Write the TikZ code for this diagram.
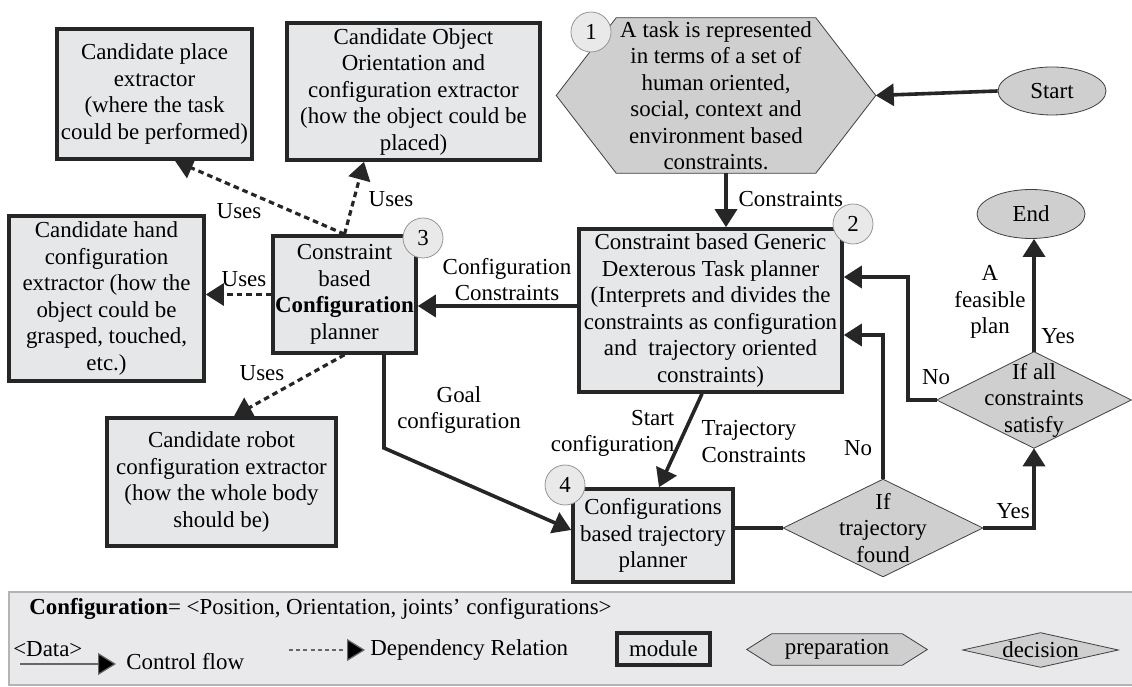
\documentclass[tikz,border=0pt]{standalone}
\usepackage{fontspec}
\setmainfont{Liberation Serif}
\usetikzlibrary{arrows.meta,shapes.geometric,backgrounds}

\definecolor{boxgray}{RGB}{230,231,233}
\definecolor{shapegray}{RGB}{207,207,208}
\definecolor{circlegray}{RGB}{233,233,233}
\definecolor{rimgray}{RGB}{150,150,150}
\definecolor{panelgray}{RGB}{233,233,235}
\definecolor{panelrim}{RGB}{180,180,180}

\tikzset{
  module/.style={draw=black!85, line width=0.09cm, fill=boxgray, align=center, inner sep=0pt},
  shapetext/.style={align=center, inner sep=0pt},
  shapefill/.style={draw=black!75, line width=0.02cm, fill=shapegray},
  terminal/.style={ellipse, shapefill, inner sep=0pt},
  stepnum/.style={circle, draw=rimgray, line width=0.02cm, fill=circlegray, minimum size=1cm, inner sep=0pt},
  flow/.style={line width=0.09cm, draw=black!85, -{Triangle[length=0.45cm,width=0.55cm]}},
  flowline/.style={line width=0.09cm, draw=black!85},
  uses/.style={line width=0.08cm, draw=black!85, dash pattern=on 0.14cm off 0.1cm, -{Triangle[length=0.45cm,width=0.55cm]}},
  lbl/.style={inner sep=1pt, align=center},
}

\begin{document}
\begin{tikzpicture}
                \useasboundingbox (0,0) rectangle (28.3,17.15);
                {\fontsize{16.3}{18.85}\selectfont

                % Marking module place extractor
                \node[module, minimum width=4.875cm, minimum height=3.25cm] (place) at (3.8625,14.8) {Candidate place\\extractor\\(where the task\\could be performed)};%

                % Marking module object extractor
                \node[module, minimum width=6.325cm, minimum height=3.425cm] (obj) at (10.3375,14.8625) {Candidate Object\\Orientation and\\configuration extractor\\(how the object could be\\placed)};%

                % Marking preparation task
                \node[shapetext, minimum width=7.975cm, minimum height=3.875cm] (task) at (17.9,14.7625) {A task is represented\\in terms of a set of\\human oriented,\\social, context and\\environment based\\constraints.};%

                % Marking terminals Start and End
                \node[terminal, minimum width=2.7cm, minimum height=1.2cm] (start) at (26.3,14.875) {Start};%
                \node[terminal, minimum width=2.7cm, minimum height=1.225cm] (finish) at (25.775,11.8) {End};%

                % Marking module generic planner
                \node[module, minimum width=6.575cm, minimum height=4.075cm] (gen) at (17.7625,9.3875) {Constraint based Generic\\Dexterous Task planner\\(Interprets and divides the\\constraints as configuration\\and\ \ trajectory oriented\\constraints)};%

                % Marking module configuration planner
                \node[module, minimum width=3.575cm, minimum height=2.925cm] (config) at (8.6125,9.7875) {Constraint\\based\\\textbf{Configuration}\\planner};%

                % Marking module hand extractor
                \node[module, minimum width=4.875cm, minimum height=4.125cm] (hand) at (2.6625,9.6875) {Candidate hand\\configuration\\extractor (how the\\object could be\\grasped, touched,\\etc.)};%

                % Marking module robot extractor
                \node[module, minimum width=5.725cm, minimum height=3.2cm] (robot) at (5.5375,5.1) {Candidate robot\\configuration extractor\\(how the whole body\\should be)};%

                % Marking module trajectory planner
                \node[module, minimum width=4.0cm, minimum height=2.325cm] (traj) at (16.325,3.7625) {Configurations\\based trajectory\\planner};%

                % Marking decisions
                \node[shapetext, minimum width=4.975cm, minimum height=2.425cm] (found) at (22.075,3.95) {If\\trajectory\\found};%
                \node[shapetext, minimum width=4.85cm, minimum height=2.4cm] (satisfy) at (25.85,7.15) {If all\\constraints\\satisfy};%

                % Marking legend items
                \node[anchor=west, inner sep=0pt] (cfgdef) at (0.725,1.925) {\textbf{Configuration}= <Position, Orientation, joints' configurations>};%
                \node[anchor=west, inner sep=0pt] (data) at (0.325,0.925) {<Data>};%
                \node[anchor=west, inner sep=0pt] (cflow) at (3.15,0.6) {Control flow};%
                \node[anchor=west, inner sep=0pt] (dep) at (9.25,0.9) {Dependency Relation};%
                \node[module, minimum width=2.325cm, minimum height=0.8cm] (mod) at (16.5875,0.925) {module};%
                \node[shapetext, minimum width=4.5cm, minimum height=0.775cm] (prep) at (20.925,0.9125) {preparation};%
                \node[shapetext, minimum width=3.875cm, minimum height=0.85cm] (dec) at (26.0125,0.9) {decision};%

                % Drawing outlines behind the texts
                \begin{scope}[on background layer]
                \draw[fill=panelgray, draw=panelrim, line width=0.03cm] (0.225,0.025) rectangle (28.45,2.35);%
                \draw[shapefill] (task.west) -- ([xshift=1.5cm]task.north west) -- ([xshift=-1.5cm]task.north east) -- (task.east) -- ([xshift=-1.5cm]task.south east) -- ([xshift=1.5cm]task.south west) -- cycle;%
                \draw[shapefill] (found.west) -- (found.north) -- (found.east) -- (found.south) -- cycle;%
                \draw[shapefill] (satisfy.west) -- (satisfy.north) -- (satisfy.east) -- (satisfy.south) -- cycle;%
                \draw[shapefill] (prep.west) -- ([xshift=0.625cm]prep.north west) -- ([xshift=-0.625cm]prep.north east) -- (prep.east) -- ([xshift=-0.625cm]prep.south east) -- ([xshift=0.625cm]prep.south west) -- cycle;%
                \draw[shapefill] (dec.west) -- (dec.north) -- (dec.east) -- (dec.south) -- cycle;%
                \end{scope}

                % Marking step numbers by circle
                \node[stepnum] (n1) at (14.775,16.35) {1};%
                \node[stepnum] (n2) at (21.325,11.55) {2};%
                \node[stepnum] (n3) at (10.575,11.2) {3};%
                \node[stepnum] (n4) at (14.125,5.025) {4};%

                % Drawing control flow
                \draw[flow] (start.west) -- (task.east);%
                \draw[flow] ([xshift=0.25cm]task.south) -- ([xshift=0.25cm]task.south |- gen.north);%
                \draw[flow] ([yshift=0.1125cm]gen.west) -- ([yshift=0.1125cm]gen.west -| config.east);%
                \coordinate (goalbend) at (9.6,5.95);%
                \draw[flow] ([xshift=0.9875cm]config.south) -- ([xshift=0.9875cm]config.south |- goalbend) -- ([yshift=0.1375cm]traj.west);%
                \draw[flow] ([xshift=-0.2125cm]gen.south) -- ([xshift=0.15cm]traj.north);%
                \draw[flowline] (traj.east |- found.west) -- (found.west);%
                \draw[flow] (found.east) -| (satisfy.south);%
                \draw[flow] (found.north) |- ([yshift=-0.6125cm]gen.east);%
                \draw[flow] (satisfy.west) -- ++(-0.725,0) |- ([yshift=0.8375cm]gen.east);%
                \draw[flow] (satisfy.north) -- (satisfy.north |- finish.south);%

                % Drawing dependency relations
                \draw[uses] (config.west) -- (config.west -| hand.east);%
                \draw[uses] (config.north) -- ([xshift=0.5125cm]place.south);%
                \draw[uses] (config.north) -- ([xshift=-1.2375cm]obj.south);%
                \draw[uses] (config.south) -- ([xshift=0.3125cm]robot.north);%

                % Drawing legend connectors
                \coordinate (cfa) at (0.5,0.55);%
                \coordinate (cfb) at (2.9,0.55);%
                \draw[line width=0.03cm, draw=black!60, -{Triangle[length=0.45cm,width=0.55cm,fill=black]}] (cfa) -- (cfb);%
                \coordinate (dpa) at (7.225,0.9);%
                \coordinate (dpb) at (9.125,0.9);%
                \draw[line width=0.03cm, draw=black!60, dash pattern=on 0.1cm off 0.08cm, -{Triangle[length=0.45cm,width=0.55cm,fill=black]}] (dpa) -- (dpb);%

                % Marking connector labels
                \node[lbl, anchor=west] (lconstr) at (18.425,12.175) {Constraints};%
                \node[lbl] (lcfgc) at (12.675,10.1625) {Configuration\\Constraints};%
                \node[lbl] (lgoal) at (11.475,6.9) {Goal\\configuration};%
                \node[lbl, anchor=east, align=right] (lstart) at (16.9,6.3125) {Start\\configuration};%
                \node[lbl, anchor=west, align=left] (ltrajc) at (17.5,6.1125) {Trajectory\\Constraints};%
                \node[lbl] (lnolow) at (21.45,5.95) {No};%
                \node[lbl] (lnoup) at (23.4,7.725) {No};%
                \node[lbl] (lyeslow) at (25.325,4.375) {Yes};%
                \node[lbl] (lyesup) at (26.45,8.75) {Yes};%
                \node[lbl] (lplan) at (24.75,9.6) {A\\feasible\\plan};%
                \node[lbl] (luhand) at (6.1,10.175) {Uses};%
                \node[lbl] (luplace) at (5.975,11.875) {Uses};%
                \node[lbl] (luobj) at (9.775,12.175) {Uses};%
                \node[lbl] (lurobot) at (6.55,7.825) {Uses};%
                }
\end{tikzpicture}
\end{document}
